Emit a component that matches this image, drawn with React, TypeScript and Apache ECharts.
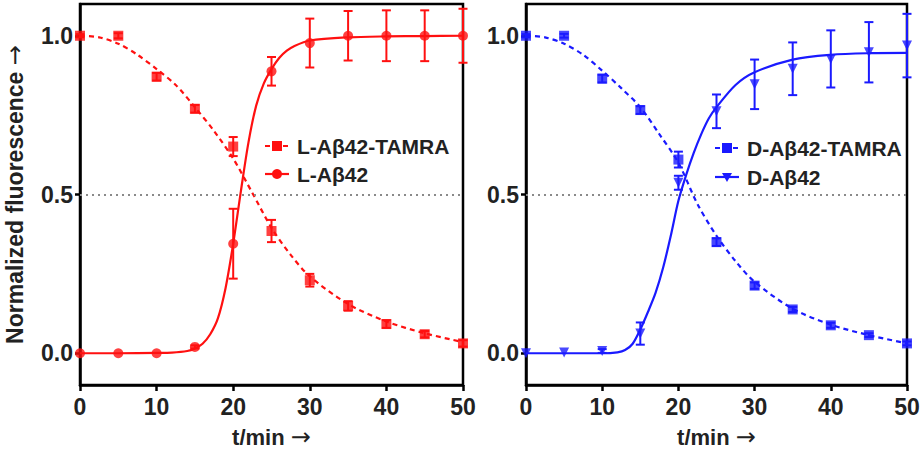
import React, { useEffect, useRef } from "react";
import * as echarts from "echarts";

// Measured time points (min)
const tPts = [0, 5, 10, 15, 20, 25, 30, 35, 40, 45, 50];
const yTicks = [0, 0.5, 1.0];

// Left panel data
const lTamra = [1.0, 1.0, 0.871, 0.77, 0.651, 0.385, 0.23, 0.149, 0.092, 0.06, 0.031];
const lTamraErr = [0.005, 0.008, 0.012, 0.012, 0.03, 0.035, 0.02, 0.015, 0.012, 0.01, 0.01];
const lAb = [0, 0, 0, 0.02, 0.345, 0.888, 0.977, 1.0, 1.0, 1.0, 1.0];
const lAbErr = [0, 0, 0, 0.005, 0.11, 0.045, 0.077, 0.078, 0.08, 0.08, 0.085];

// Right panel data
const dTamra = [1.0, 1.0, 0.865, 0.766, 0.61, 0.35, 0.213, 0.138, 0.088, 0.057, 0.031];
const dTamraErr = [0.005, 0.006, 0.012, 0.012, 0.025, 0.012, 0.01, 0.008, 0.008, 0.006, 0.006];
const dAb = [0, 0.002, 0.007, 0.062, 0.537, 0.762, 0.847, 0.896, 0.927, 0.948, 0.969];
const dAbErr = [0, 0.004, 0.006, 0.035, 0.022, 0.053, 0.078, 0.083, 0.09, 0.095, 0.1];

// Fitted curves
const lAbFitT = [0, 5, 10, 12, 14, 15, 16, 17, 18, 19, 20, 21, 22, 23, 24, 25, 26, 27, 28, 30, 35, 40, 45, 50];
const lAbFitY = [0, 0, 0.001, 0.002, 0.007, 0.015, 0.03, 0.06, 0.11, 0.205, 0.345, 0.51, 0.665, 0.78, 0.85, 0.895, 0.93, 0.953, 0.968, 0.985, 0.995, 0.998, 0.999, 1.0];
const lTamraFitT = [0, 2.5, 5, 7.5, 10, 12.5, 15, 17.5, 20, 22.5, 25, 27.5, 30, 35, 40, 45, 50];
const lTamraFitY = [1.0, 0.995, 0.975, 0.94, 0.895, 0.845, 0.775, 0.7, 0.613, 0.505, 0.395, 0.31, 0.242, 0.155, 0.1, 0.063, 0.035];
const dAbFitT = [0, 5, 10, 12, 13, 14, 15, 16, 17, 18, 19, 20, 21, 22, 23, 24, 25, 27.5, 30, 35, 40, 45, 50];
const dAbFitY = [0, 0, 0, 0.003, 0.01, 0.03, 0.075, 0.13, 0.19, 0.27, 0.37, 0.48, 0.56, 0.63, 0.69, 0.74, 0.775, 0.845, 0.885, 0.925, 0.94, 0.945, 0.946];
const dTamraFitT = [0, 2.5, 5, 7.5, 10, 12.5, 15, 17.5, 20, 22.5, 25, 27.5, 30, 35, 40, 45, 50];
const dTamraFitY = [1.0, 0.995, 0.975, 0.94, 0.89, 0.835, 0.775, 0.69, 0.6, 0.47, 0.37, 0.29, 0.225, 0.14, 0.09, 0.057, 0.031];

const RED = "#ff1010";
const BLUE = "#1a1aff";
const FONT = "'Liberation Sans', Arial, sans-serif";

const zip = (xs: number[], ys: number[]) => xs.map((x, i) => [x, ys[i]]);

const arrowRich = {
  a: { fontFamily: "'DejaVu Sans', sans-serif", fontWeight: "normal", fontSize: 24, color: "#222" },
};

function errSeries(vals: number[], errs: number[], color: string, axis: number) {
  return {
    type: "custom",
    xAxisIndex: axis,
    yAxisIndex: axis,
    z: 4,
    clip: false,
    data: tPts.map((t, i) => [t, vals[i], errs[i]]).filter((d) => d[2] > 0.004),
    encode: { x: 0, y: 1 },
    renderItem: (params: any, api: any) => {
      const x = api.value(0);
      const y = api.value(1);
      const e = api.value(2);
      const top = api.coord([x, y + e]);
      const bot = api.coord([x, y - e]);
      const hw = 4.5;
      const style = { stroke: color, lineWidth: 2 };
      return {
        type: "group",
        children: [
          { type: "line", shape: { x1: top[0], y1: top[1], x2: bot[0], y2: bot[1] }, style },
          { type: "line", shape: { x1: top[0] - hw, y1: top[1], x2: top[0] + hw, y2: top[1] }, style },
          { type: "line", shape: { x1: bot[0] - hw, y1: bot[1], x2: bot[0] + hw, y2: bot[1] }, style },
        ],
      };
    },
  };
}

function fitSeries(data: number[][], color: string, axis: number, dashed: boolean, withRef: boolean) {
  const s: any = {
    type: "line",
    xAxisIndex: axis,
    yAxisIndex: axis,
    data,
    smooth: 0.3,
    showSymbol: false,
    symbol: "none",
    z: 3,
    lineStyle: { color, width: 2.2, type: dashed ? [5, 4] : "solid" },
  };
  if (withRef) {
    s.markLine = {
      silent: true,
      symbol: "none",
      label: { show: false },
      lineStyle: { color: "#8a8a8a", type: [2, 4], width: 2 },
      data: [{ yAxis: 0.5 }],
    };
  }
  return s;
}

function ptSeries(vals: number[], color: string, axis: number, symbol: string, size: number, rotate = 0) {
  return {
    type: "scatter",
    xAxisIndex: axis,
    yAxisIndex: axis,
    data: zip(tPts, vals),
    symbol,
    symbolSize: size,
    symbolRotate: rotate,
    clip: false,
    z: 5,
    itemStyle: { color },
  };
}

function xAx(grid: number) {
  return {
    type: "value",
    gridIndex: grid,
    min: 0,
    max: 50,
    interval: 10,
    name: "t/min {a|\u2192}",
    nameLocation: "middle",
    nameGap: 40,
    nameTextStyle: { fontFamily: FONT, fontWeight: "bold", fontSize: 22, color: "#222", rich: arrowRich },
    axisLine: { show: true, onZero: false, lineStyle: { color: "#000", width: 2.5 } },
    axisTick: { show: true, length: 6, lineStyle: { color: "#000", width: 2.5 } },
    axisLabel: { margin: 10, fontFamily: FONT, fontWeight: "bold", fontSize: 23, color: "#222" },
    splitLine: { show: false },
  };
}

function yAx(grid: number, withName: boolean) {
  return {
    type: "value",
    gridIndex: grid,
    min: -0.1,
    max: 1.1,
    name: withName ? "Normalized fluorescence {a|\u2192}" : "",
    nameLocation: "middle",
    nameGap: 53,
    nameTextStyle: { fontFamily: FONT, fontWeight: "bold", fontSize: 23, color: "#222", rich: arrowRich },
    axisLine: { show: true, lineStyle: { color: "#000", width: 2.5 } },
    axisTick: { show: true, length: 5, customValues: yTicks, lineStyle: { color: "#000", width: 2.5 } },
    axisLabel: {
      margin: 7,
      customValues: yTicks,
      fontFamily: FONT,
      fontWeight: "bold",
      fontSize: 23,
      color: "#222",
      formatter: (v: number) => v.toFixed(1),
    },
    splitLine: { show: false },
  };
}

function legendGraphic(x0: number, y1: number, y2: number, color: string, name1: string, name2: string, sym2: string) {
  const lx1 = x0;
  const lx2 = x0 + 24;
  const cx = x0 + 12;
  const tx = x0 + 32;
  const textStyle = (text: string, y: number) => ({
    type: "text",
    x: tx,
    y,
    style: { text, fill: "#222", font: `bold 21px ${FONT}`, verticalAlign: "middle", align: "left" },
  });
  const els: any[] = [
    { type: "line", shape: { x1: lx1, y1, x2: lx2, y2: y1 }, style: { stroke: color, lineWidth: 2.2, lineDash: [5, 4] } },
    { type: "rect", shape: { x: cx - 5, y: y1 - 5, width: 10, height: 10 }, style: { fill: color } },
    textStyle(name1, y1),
    { type: "line", shape: { x1: lx1, y1: y2, x2: lx2, y2: y2 }, style: { stroke: color, lineWidth: 2.2 } },
    textStyle(name2, y2),
  ];
  if (sym2 === "circle") {
    els.push({ type: "circle", shape: { cx, cy: y2, r: 5 }, style: { fill: color } });
  } else {
    els.push({ type: "polygon", shape: { points: [[cx - 5, y2 - 4], [cx + 5, y2 - 4], [cx, y2 + 5]] }, style: { fill: color } });
  }
  return els;
}

export default function App() {
  const ref = useRef<HTMLDivElement>(null);
  useEffect(() => {
    if (!ref.current) return;
    const chart = echarts.init(ref.current, null, { renderer: "svg" });
    const gridBase = { top: 4, bottom: 65, show: true, borderColor: "#000", borderWidth: 2.5, backgroundColor: "transparent", outerBoundsMode: "none", containLabel: false };
    const option: any = {
      animation: false,
      backgroundColor: "#fff",
      grid: [
        { ...gridBase, left: 80, right: 458 },
        { ...gridBase, left: 526, right: 14 },
      ],
      xAxis: [xAx(0), xAx(1)],
      yAxis: [yAx(0, true), yAx(1, false)],
      series: [
        fitSeries(zip(lTamraFitT, lTamraFitY), RED, 0, true, true),
        fitSeries(zip(lAbFitT, lAbFitY), RED, 0, false, false),
        errSeries(lTamra, lTamraErr, RED, 0),
        errSeries(lAb, lAbErr, RED, 0),
        ptSeries(lTamra, RED, 0, "rect", 10),
        ptSeries(lAb, RED, 0, "circle", 10),
        fitSeries(zip(dTamraFitT, dTamraFitY), BLUE, 1, true, true),
        fitSeries(zip(dAbFitT, dAbFitY), BLUE, 1, false, false),
        errSeries(dTamra, dTamraErr, BLUE, 1),
        errSeries(dAb, dAbErr, BLUE, 1),
        ptSeries(dTamra, BLUE, 1, "rect", 10),
        ptSeries(dAb, BLUE, 1, "triangle", 10, 180),
      ],
      graphic: [
        ...legendGraphic(265, 146, 174, RED, "L-A\u03b242-TAMRA", "L-A\u03b242", "circle"),
        ...legendGraphic(715, 148, 177, BLUE, "D-A\u03b242-TAMRA", "D-A\u03b242", "triangle"),
      ],
    };
    chart.setOption(option);
    return () => chart.dispose();
  }, []);
  return (
    <div
      ref={ref}
      style={{ position: "absolute", left: 0, top: 0, width: 921, height: 450, background: "#fff" }}
    />
  );
}
